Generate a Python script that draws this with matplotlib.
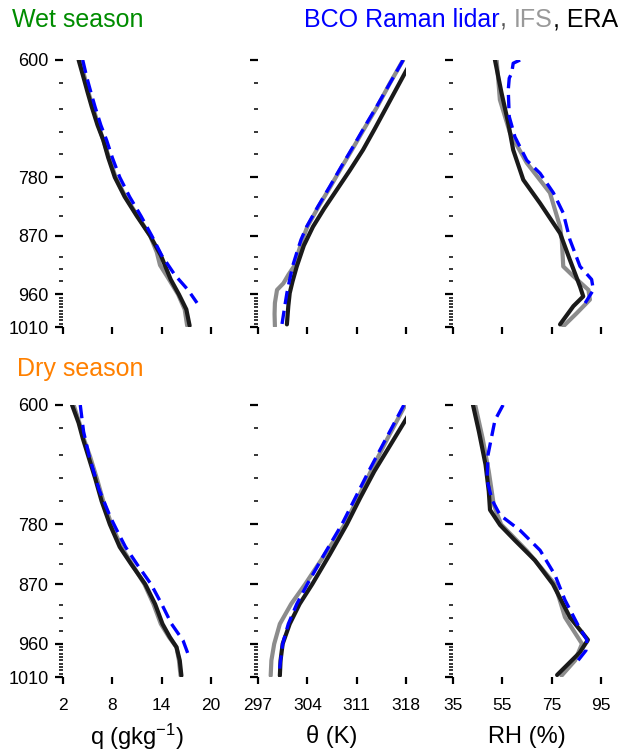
import matplotlib
matplotlib.use("Agg")
import matplotlib.pyplot as plt

plt.rcParams['font.family'] = ['Liberation Sans', 'DejaVu Sans']
plt.rcParams['mathtext.default'] = 'regular'

# ---------------- profiles (pressure in hPa) ----------------
# Wet season
wet_q_era_p = [600, 627, 650, 672, 700, 723, 750, 780, 810, 840, 870, 900, 937, 960, 983, 1008]
wet_q_era = [3.9, 4.5, 5.0, 5.5, 6.2, 6.9, 7.5, 8.3, 9.5, 11.0, 12.6, 13.9, 15.1, 16.1, 17.0, 17.4]
wet_q_ifs_p = [600, 650, 700, 750, 780, 810, 840, 870, 895, 915, 935, 960, 983, 1008]
wet_q_ifs = [4.1, 5.1, 6.3, 7.6, 8.4, 9.6, 11.1, 12.6, 13.4, 13.8, 14.8, 16.0, 16.8, 17.1]
wet_q_lid_p = [600, 627, 650, 672, 700, 723, 750, 780, 810, 840, 870, 900, 930, 953, 973]
wet_q_lid = [4.4, 4.9, 5.4, 5.9, 6.6, 7.3, 8.0, 8.9, 10.1, 11.5, 12.8, 14.0, 15.6, 17.2, 18.3]

wet_th_era_p = [600, 618, 645, 672, 705, 738, 770, 799, 828, 856, 885, 917, 940, 958, 978, 1006]
wet_th_era = [318.9, 317.95, 316.6, 315.25, 313.6, 311.9, 310.0, 308.2, 306.4, 304.8, 303.5,
              302.5, 301.9, 301.5, 301.3, 301.1]
wet_th_ifs_p = [600, 636, 672, 703, 733, 764, 794, 825, 856, 876, 896, 917, 930, 943, 953, 973, 990, 1009]
wet_th_ifs = [317.6, 315.7, 313.9, 312.2, 310.6, 308.9, 307.3, 305.6, 304.0, 303.3, 302.7,
              302.1, 301.3, 300.6, 299.7, 299.4, 299.35, 299.4]
wet_th_lid_p = [600, 636, 672, 703, 733, 764, 794, 825, 856, 876, 896, 917, 937, 958, 978, 1006]
wet_th_lid = [317.6, 315.7, 313.8, 312.1, 310.5, 308.8, 307.2, 305.5, 303.9, 303.1, 302.5,
              301.9, 301.5, 301.1, 300.8, 300.4]

wet_rh_era_p = [600, 651, 697, 738, 784, 820, 866, 907, 948, 963, 978, 1006]
wet_rh_era = [52.0, 54.7, 57.4, 59.4, 63.5, 70.3, 78.4, 82.4, 86.5, 87.8, 83.8, 78.4]
wet_rh_ifs_p = [600, 661, 712, 758, 804, 856, 876, 917, 932, 953, 968, 989, 1009]
wet_rh_ifs = [52.7, 54.0, 58.1, 64.9, 74.3, 78.4, 79.1, 79.7, 83.8, 89.9, 90.5, 85.1, 79.7]
wet_rh_lid_p = [600, 605, 620, 628, 646, 687, 718, 754, 774, 804, 835, 876, 917, 937, 953, 978]
wet_rh_lid = [62.2, 59.4, 58.8, 57.8, 57.4, 57.8, 60.1, 64.9, 70.3, 75.7, 79.7, 82.4, 86.5, 91.2, 91.9, 87.8]

# Dry season
dry_q_era_p = [600, 627, 650, 678, 710, 745, 780, 814, 840, 870, 900, 930, 950, 965, 985, 1008]
dry_q_era = [3.1, 3.9, 4.4, 5.1, 5.9, 6.7, 7.7, 8.9, 10.3, 12.0, 13.2, 14.1, 15.0, 15.8, 16.2, 16.4]
dry_q_ifs_p = [600, 627, 650, 678, 710, 745, 780, 814, 840, 870, 900, 930, 950, 965, 985, 1008]
dry_q_ifs = [3.3, 4.0, 4.5, 5.3, 6.1, 6.9, 7.9, 9.1, 10.4, 11.9, 13.0, 13.9, 14.9, 15.8, 16.1, 16.3]
dry_q_lid_p = [600, 640, 678, 728, 770, 790, 814, 840, 870, 900, 930, 955, 975]
dry_q_lid = [4.1, 4.5, 5.2, 6.4, 7.8, 8.6, 9.6, 11.0, 12.7, 14.0, 15.2, 16.6, 17.2]

dry_th_era_p = [600, 618, 660, 700, 740, 780, 825, 870, 900, 930, 960, 985, 1008]
dry_th_era = [319.0, 318.2, 315.8, 313.5, 311.5, 309.6, 307.2, 304.7, 302.9, 301.5, 300.5, 300.2, 300.1]
dry_th_ifs_p = [600, 650, 700, 740, 780, 825, 870, 900, 930, 960, 985, 1008]
dry_th_ifs = [317.9, 315.4, 313.0, 311.2, 309.3, 306.5, 303.7, 301.7, 300.1, 299.3, 298.9, 298.8]
dry_th_lid_p = [600, 650, 700, 740, 780, 825, 870, 900, 930, 960, 985, 1005]
dry_th_lid = [317.7, 315.2, 312.7, 310.8, 308.9, 306.4, 304.0, 302.5, 301.3, 300.5, 300.2, 300.0]

dry_rh_era_p = [600, 640, 690, 730, 758, 781, 804, 834, 870, 920, 954, 973, 1007]
dry_rh_era = [43.1, 45.5, 48.2, 49.5, 50.0, 54.1, 60.1, 68.2, 75.5, 82.4, 89.7, 86.4, 77.2]
dry_rh_ifs_p = [600, 650, 700, 750, 780, 820, 870, 920, 960, 985, 1008]
dry_rh_ifs = [44.0, 47.0, 49.5, 51.5, 54.5, 65.0, 76.3, 80.4, 87.3, 84.5, 79.0]
dry_rh_lid_p = [600, 623, 675, 713, 743, 766, 789, 819, 856, 894, 932, 954, 970, 985]
dry_rh_lid = [55.3, 52.0, 49.2, 48.8, 50.8, 54.1, 62.2, 70.3, 76.3, 80.4, 85.7, 89.3, 88.9, 85.7]

# axis ticks
p_major = [600, 780, 870, 960, 1010]
p_minor = [635, 675, 710, 745, 810, 840, 902, 921, 940,
           965, 970, 975, 980, 985, 990, 995, 1000, 1005]
q_ticks = [2, 8, 14, 20]
th_ticks = [297, 304, 311, 318]
rh_ticks = [35, 55, 75, 95]
xlabels = ['q (gkg$^{-1}$)', 'θ (K)', 'RH (%)']

C_LID = '#0000ff'
C_IFS = '#8c8c8c'
C_ERA = '#1a1a1a'

W, H = 628, 752
fig = plt.figure(figsize=(W / 100, H / 100), dpi=100)

col_left = [63, 258, 453]
col_w = 148
rows = [(60, 327), (405, 677)]

panels = [
    [(wet_q_lid_p, wet_q_lid, wet_q_ifs_p, wet_q_ifs, wet_q_era_p, wet_q_era),
     (wet_th_lid_p, wet_th_lid, wet_th_ifs_p, wet_th_ifs, wet_th_era_p, wet_th_era),
     (wet_rh_lid_p, wet_rh_lid, wet_rh_ifs_p, wet_rh_ifs, wet_rh_era_p, wet_rh_era)],
    [(dry_q_lid_p, dry_q_lid, dry_q_ifs_p, dry_q_ifs, dry_q_era_p, dry_q_era),
     (dry_th_lid_p, dry_th_lid, dry_th_ifs_p, dry_th_ifs, dry_th_era_p, dry_th_era),
     (dry_rh_lid_p, dry_rh_lid, dry_rh_ifs_p, dry_rh_ifs, dry_rh_era_p, dry_rh_era)],
]
xticks = [q_ticks, th_ticks, rh_ticks]

for r, (top, bot) in enumerate(rows):
    for c in range(3):
        ax = fig.add_axes([col_left[c] / W, 1 - bot / H, col_w / W, (bot - top) / H])
        lp, lv, ip, iv, ep, ev = panels[r][c]
        ax.plot(iv, ip, color=C_IFS, lw=3.0, solid_capstyle='round',
                solid_joinstyle='round', zorder=2)
        ax.plot(ev, ep, color=C_ERA, lw=3.0, solid_capstyle='round',
                solid_joinstyle='round', zorder=3)
        ax.plot(lv, lp, color=C_LID, lw=2.4, dashes=(4, 2), zorder=4)
        ax.set_xlim(xticks[c][0], xticks[c][-1])
        ax.set_ylim(1010, 600)
        for s in ax.spines.values():
            s.set_visible(False)
        ax.set_yticks(p_major)
        ax.set_yticks(p_minor, minor=True)
        ax.set_xticks(xticks[c])
        ax.tick_params(axis='y', which='major', direction='out', length=6, width=1.6,
                       pad=4.5, labelsize=13)
        ax.tick_params(axis='y', which='minor', direction='out', length=3, width=1.1)
        ax.tick_params(axis='x', which='major', direction='out', length=5, width=1.6,
                       pad=10, labelsize=12.5)
        if c > 0:
            ax.set_yticklabels([])
        if r == 0:
            ax.set_xticklabels([])
        else:
            fig.text((col_left[c] + col_w / 2) / W, 1 - 737 / H, xlabels[c],
                     ha='center', va='center', fontsize=17)

fig.text(12 / W, 1 - 27 / H, 'Wet season', color='#008c00', fontsize=18, va='baseline')
fig.text(17 / W, 1 - 376 / H, 'Dry season', color='#ff8000', fontsize=18, va='baseline')

# multicoloured legend line, right aligned
pieces = [('BCO Raman lidar', C_LID), (', ', '#555555'), ('IFS', '#999999'), (', ERA', '#000000')]
renderer = fig.canvas.get_renderer()
texts = []
for s, col in pieces:
    t = fig.text(0, 1 - 27 / H, s, color=col, fontsize=18, va='baseline')
    texts.append(t)
widths = [t.get_window_extent(renderer).width for t in texts]
x = 618 - sum(widths)
for t, w in zip(texts, widths):
    t.set_x(x / W)
    x += w

fig.savefig('out.png', dpi=100)
